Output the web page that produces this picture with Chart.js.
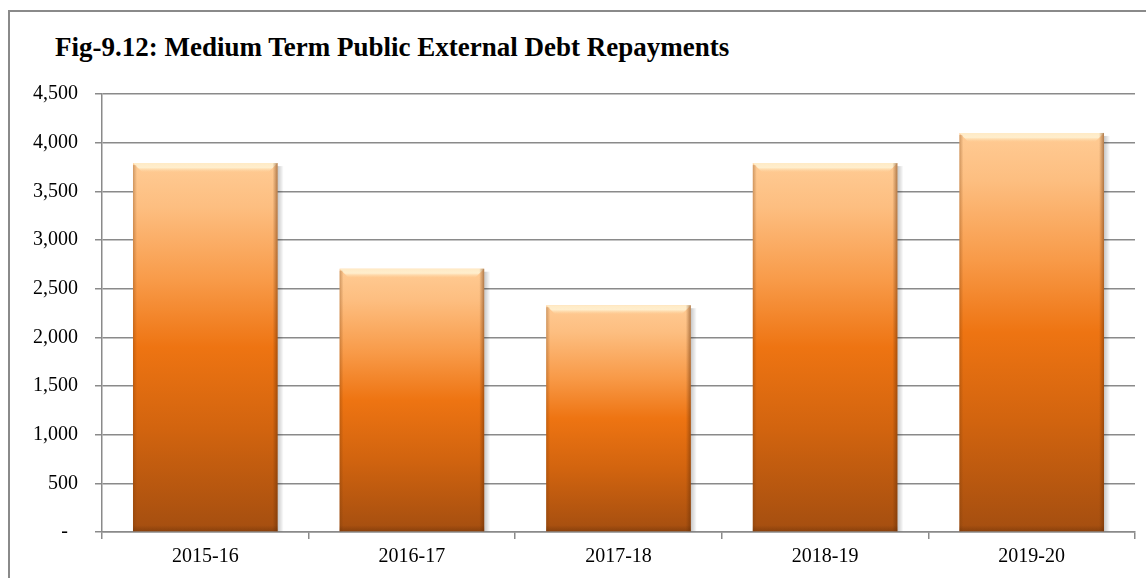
<!DOCTYPE html>
<html>
<head>
<meta charset="utf-8">
<script src="https://cdn.jsdelivr.net/npm/chart.js@4"></script>
<style>
  html, body { margin: 0; padding: 0; background: #fff; }
  body { width: 1146px; height: 578px; position: relative; overflow: hidden; }
  #frame {
    position: absolute; left: 8px; top: 10px; width: 1200px; height: 700px;
    border: 2px solid #8a8a8a; box-sizing: border-box;
  }
  #title {
    position: absolute; left: 55px; top: 34px; margin: 0;
    font: bold 27px/27px 'Liberation Serif', 'Times New Roman', serif;
    color: #000; white-space: nowrap;
  }
  #wrap { position: absolute; left: 0; top: 0; width: 1146px; height: 578px; }
</style>
</head>
<body>
<div id="frame"></div>
<div id="title"></div>
<div id="wrap"><canvas id="debt-chart"></canvas></div>
<script>
// chart data
const years = ['2015-16', '2016-17', '2017-18', '2018-19', '2019-20'];
const repayments = [3790, 2705, 2330, 3790, 4100];
const chartTitle = 'Fig-9.12: Medium Term Public External Debt Repayments';

document.getElementById('title').textContent = chartTitle;

const serif = "'Liberation Serif', 'Times New Roman', serif";

// vertical orange gradient per bar, from its top down to zero
function barFill(context) {
    const chart = context.chart;
    if (!chart.chartArea) return '#ee7310';
    const yScale = chart.scales.y;
    const top = yScale.getPixelForValue(context.raw);
    const bottom = yScale.getPixelForValue(0);
    const g = chart.ctx.createLinearGradient(0, top, 0, bottom);
    g.addColorStop(0, '#ffcb94');
    g.addColorStop(0.12, '#fdbe80');
    g.addColorStop(0.32, '#f89a48');
    g.addColorStop(0.5, '#ee7412');
    g.addColorStop(0.72, '#d2640f');
    g.addColorStop(1, '#a44e10');
    return g;
}

// bevel look on the bars: light top edge, darker sides and soft shadow
const bevel = {
    id: 'bevel',
    afterDatasetsDraw(chart) {
        const ctx = chart.ctx;
        chart.getDatasetMeta(0).data.forEach(bar => {
            const w = bar.width;
            const l = bar.x - w / 2, r = bar.x + w / 2;
            const t = bar.y, b = bar.base;
            ctx.save();
            // shadow right of the bar
            const sh = ctx.createLinearGradient(r, 0, r + 6, 0);
            sh.addColorStop(0, 'rgba(0,0,0,0.22)');
            sh.addColorStop(1, 'rgba(0,0,0,0)');
            ctx.fillStyle = sh;
            ctx.fillRect(r, t + 3, 6, b - t - 3);
            // top highlight band with slanted corners
            const band = 9;
            const hg = ctx.createLinearGradient(0, t, 0, t + band);
            hg.addColorStop(0, 'rgba(255,236,200,0.95)');
            hg.addColorStop(0.5, 'rgba(255,244,215,0.85)');
            hg.addColorStop(1, 'rgba(255,220,170,0)');
            ctx.fillStyle = hg;
            ctx.beginPath();
            ctx.moveTo(l, t);
            ctx.lineTo(r, t);
            ctx.lineTo(r - band, t + band);
            ctx.lineTo(l + band, t + band);
            ctx.closePath();
            ctx.fill();
            // left edge
            const lg = ctx.createLinearGradient(l, 0, l + 4, 0);
            lg.addColorStop(0, 'rgba(120,60,10,0.35)');
            lg.addColorStop(1, 'rgba(120,60,10,0)');
            ctx.fillStyle = lg;
            ctx.fillRect(l, t + 2, 4, b - t - 2);
            // right edge
            const rg = ctx.createLinearGradient(r - 5, 0, r, 0);
            rg.addColorStop(0, 'rgba(100,45,5,0)');
            rg.addColorStop(1, 'rgba(100,45,5,0.5)');
            ctx.fillStyle = rg;
            ctx.fillRect(r - 5, t, 5, b - t);
            // bottom edge
            const bg = ctx.createLinearGradient(0, b - 6, 0, b);
            bg.addColorStop(0, 'rgba(90,40,5,0)');
            bg.addColorStop(1, 'rgba(90,40,5,0.35)');
            ctx.fillStyle = bg;
            ctx.fillRect(l, b - 6, w, 6);
            ctx.restore();
        });
    }
};

new Chart(document.getElementById('debt-chart'), {
    type: 'bar',
    data: {
        labels: years,
        datasets: [{
            label: 'Repayments',
            data: repayments,
            backgroundColor: barFill,
            borderWidth: 0,
            categoryPercentage: 1,
            barPercentage: 0.7
        }]
    },
    options: {
        responsive: true,
        maintainAspectRatio: false,
        animation: false,
        layout: { padding: { left: 10, right: 11, top: 94, bottom: 0 } },
        plugins: {
            legend: { display: false },
            tooltip: { enabled: false },
            title: { display: false }
        },
        scales: {
            x: {
                offset: true,
                grid: {
                    offset: true,
                    drawOnChartArea: false,
                    drawTicks: true,
                    tickLength: 7,
                    color: '#8a8a8a',
                    lineWidth: 1.5
                },
                border: { color: '#8a8a8a', width: 1.5 },
                ticks: {
                    color: '#000',
                    padding: 6,
                    font: { family: serif, size: 20 }
                },
                afterFit(axis) { axis.height = 46; }
            },
            y: {
                min: 0,
                max: 4500,
                grid: {
                    color: '#8a8a8a',
                    lineWidth: 1.5,
                    tickLength: 7
                },
                border: { color: '#8a8a8a', width: 1.5 },
                ticks: {
                    stepSize: 500,
                    color: '#000',
                    padding: 17,
                    font: { family: serif, size: 20 },
                    callback: v => v === 0 ? '-  ' : v.toLocaleString('en-US')
                },
                afterFit(axis) { axis.width = 92; }
            }
        }
    },
    plugins: [bevel]
});
</script>
</body>
</html>
